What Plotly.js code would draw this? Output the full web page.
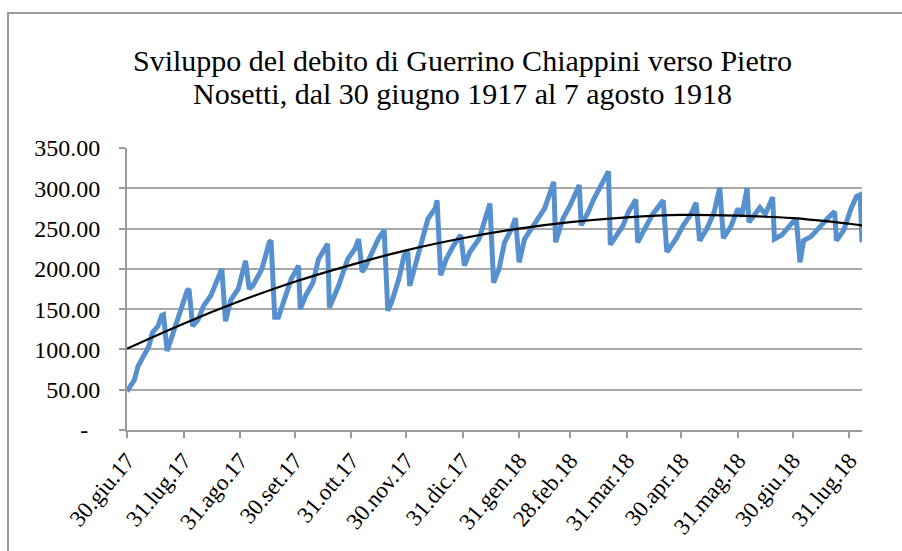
<!DOCTYPE html>
<html>
<head>
<meta charset="utf-8">
<script src="https://cdn.plot.ly/plotly-3.0.1.min.js"></script>
<style>
  html, body { margin: 0; padding: 0; background: #fff; }
  #wrap { position: relative; width: 902px; height: 551px; overflow: hidden; }
  #chart { width: 902px; height: 551px; }
  #frame { position: absolute; left: 7px; top: 12px; width: 1000px; height: 1000px;
           border-left: 2px solid #9a9a9a; border-top: 2px solid #9a9a9a; pointer-events: none; }
</style>
</head>
<body>
<div id="wrap"><div id="chart"></div><div id="frame"></div></div>
<script>
// Days counted from 30 giugno 1917
const startDate = Date.UTC(1917, 5, 30);
const debitoGiorni = [0,2,4,6,9,12,14,17,19,20,22,24,26,30,33,34,36,39,42,46,50,52,54,57,61,65,67,69,74,78,79,81,83,86,90,94,95,98,102,105,110,111,116,121,125,127,129,131,134,138,141,143,145,149,152,154,155,158,162,165,169,170,172,175,179,183,185,188,193,196,199,201,204,207,211,213,215,218,224,229,234,235,239,243,248,249,253,256,264,265,268,272,275,279,280,284,288,294,296,301,305,309,312,314,318,322,325,327,331,335,337,340,341,345,347,350,354,355,359,365,367,369,371,375,378,382,386,388,389,393,397,400,402,403];
const debitoValori = [48,54,62,79,92,104,121,129,142,143,98,112,125,154,173,175,129,137,154,167,187,200,135,162,175,210,175,179,200,233,235,140,140,162,187,204,150,167,183,212,231,152,179,212,225,237,196,204,220,238,248,148,158,187,217,221,179,204,233,262,275,285,192,212,229,242,204,221,237,258,281,183,200,233,250,263,208,237,258,275,308,233,262,279,304,254,271,287,321,230,240,254,271,286,233,250,267,285,221,237,254,267,282,235,250,271,301,238,252,275,265,300,258,270,276,268,289,237,242,258,262,208,235,240,248,258,267,271,235,248,275,290,292,233];
const tendenzaGiorni = [0,31,62,92,123,153,184,215,243,274,304,335,365,396,403];
const tendenzaValori = [101,132,160,184,205,223,238,250,258,264,267,266,263,256,254];
const tickGiorni = [0,31,62,92,123,153,184,215,243,274,304,335,365,396];
const tickEtichette = ["30.giu.17","31.lug.17","31.ago.17","30.set.17","31.ott.17","30.nov.17","31.dic.17","31.gen.18","28.feb.18","31.mar.18","30.apr.18","31.mag.18","30.giu.18","31.lug.18"];
const yTickVals = [0,50,100,150,200,250,300,350];
const yTickText = ["-\u00a0\u00a0","50.00","100.00","150.00","200.00","250.00","300.00","350.00"];
const titolo1 = 'Sviluppo del debito di Guerrino Chiappini verso Pietro';
const titolo2 = 'Nosetti, dal 30 giugno 1917 al 7 agosto 1918';

function toDate(d) {
  return new Date(startDate + d * 86400000).toISOString().slice(0, 10);
}

const traces = [
  {
    x: debitoGiorni.map(toDate), y: debitoValori, type: 'scatter', mode: 'lines',
    line: { color: '#5790CF', width: 5, shape: 'linear' }, hoverinfo: 'skip'
  },
  {
    x: tendenzaGiorni.map(toDate), y: tendenzaValori, type: 'scatter', mode: 'lines',
    line: { color: '#000000', width: 2.2, shape: 'spline', smoothing: 1 }, hoverinfo: 'skip'
  }
];

const fam = '"Liberation Serif", "Times New Roman", serif';
const font = { family: fam, color: '#000' };

const layout = {
  width: 902, height: 551,
  paper_bgcolor: '#fff', plot_bgcolor: '#fff',
  showlegend: false,
  margin: { l: 127, r: 40, t: 148, b: 121 },
  font: Object.assign({ size: 22 }, font),
  annotations: [
    { text: titolo1, xref: 'paper', yref: 'paper', x: 0.457, y: 1.31, xanchor: 'center', yanchor: 'middle',
      showarrow: false, font: Object.assign({ size: 30 }, font) },
    { text: titolo2, xref: 'paper', yref: 'paper', x: 0.457, y: 1.193, xanchor: 'center', yanchor: 'middle',
      showarrow: false, font: Object.assign({ size: 30 }, font) }
  ],
  xaxis: {
    type: 'date',
    range: [toDate(0), toDate(403.5)],
    tickmode: 'array',
    tickvals: tickGiorni.map(toDate),
    ticktext: tickEtichette,
    tickangle: -50,
    ticks: 'outside', ticklen: 6, tickwidth: 2, tickcolor: '#9a9a9a',
    showline: true, linecolor: '#9a9a9a', linewidth: 2,
    showgrid: false, zeroline: false,
    tickfont: Object.assign({ size: 23 }, font)
  },
  yaxis: {
    range: [0, 350],
    tickmode: 'array',
    tickvals: yTickVals,
    ticktext: yTickText,
    ticks: 'outside', ticklen: 6, tickwidth: 2, tickcolor: '#9a9a9a',
    showline: true, linecolor: '#9a9a9a', linewidth: 2,
    showgrid: true, gridcolor: '#a8a8a8', gridwidth: 2,
    zeroline: false,
    ticklabelstandoff: 14,
    tickfont: Object.assign({ size: 24 }, font)
  }
};

Plotly.newPlot('chart', traces, layout, { staticPlot: true, displayModeBar: false });
</script>
</body>
</html>
